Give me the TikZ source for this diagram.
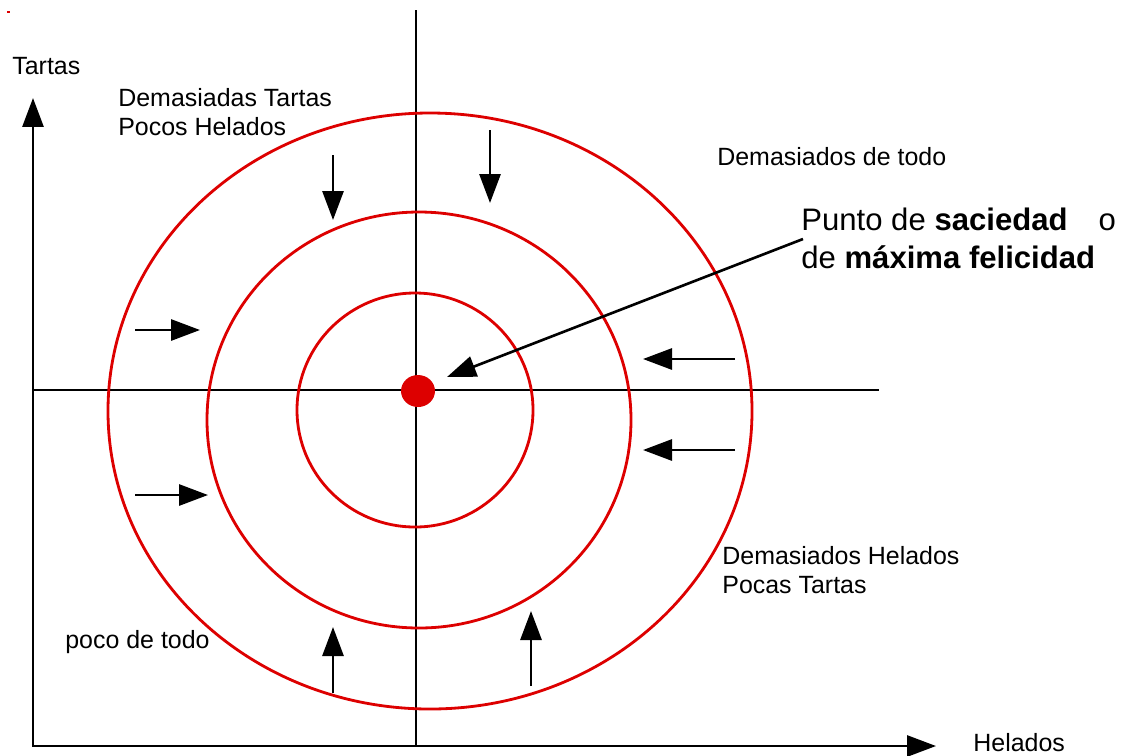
\documentclass[tikz,border=0pt]{standalone}
\usepackage{fontspec}
\setmainfont{Liberation Sans}
\usetikzlibrary{arrows.meta}
\definecolor{rojo}{RGB}{221,0,0}

\begin{document}
\begin{tikzpicture}[x=0.02cm,y=-0.02cm,
    linea/.style={line width=1.5pt},
    flecha/.style={line width=1.5pt,-{Triangle[length=16.5pt,width=12pt]}},
    curva/.style={rojo,line width=1.6pt},
    rotulo/.style={anchor=base west,inner sep=0pt,align=left,font=\fontsize{14.2}{16.4}\selectfont},
    grande/.style={rotulo,font=\fontsize{17.7}{21.5}\selectfont}]
    \useasboundingbox (0,0) rectangle (1121,755);
    \fill[rojo] (7,11) rectangle (10,13);
    % ejes
    \draw[flecha] (33,746) -- (33,98);
    \draw[flecha] (32,746) -- (936,746);
    \node[rotulo] (tartas) at (12,74) {Tartas};
    \node[rotulo] (helados) at (973,751) {Helados};
    % cruz por el punto de saciedad
    \draw[linea] (416,10) -- (416,746);
    \draw[linea] (33,390) -- (879,390);
    % curvas de indiferencia
    \draw[curva] (415,410) ellipse [x radius=118, y radius=117];
    \draw[curva] (419,420) ellipse [x radius=212, y radius=208];
    \draw[curva] (430,411) ellipse [x radius=322, y radius=298];
    \fill[rojo] (418,391) ellipse [x radius=17, y radius=16];
    % flechas hacia el centro
    \draw[flecha] (333,155) -- (333,220);
    \draw[flecha] (490,130) -- (490,203);
    \draw[flecha] (135,330) -- (200,330);
    \draw[flecha] (135,495) -- (208,495);
    \draw[flecha] (735,359) -- (643,359);
    \draw[flecha] (735,450) -- (643,450);
    \draw[flecha] (333,693) -- (333,627);
    \draw[flecha] (531,686) -- (531,611);
    % rotulos (base = ultima linea)
    \node[rotulo] (tartashel) at (118,135) {Demasiadas Tartas\\Pocos Helados};
    \node[rotulo] (todo) at (717,165) {Demasiados de todo};
    \node[rotulo] (heladostar) at (722,593) {Demasiados Helados\\Pocas Tartas};
    \node[rotulo] (poco) at (65,648) {poco de todo};
    \node[grande] (punto) at (801,268) {Punto de \textbf{saciedad}\quad o\\de \textbf{máxima felicidad}};
    \coordinate (inicio) at (803,239);
    \coordinate (sat) at (447,377);
    \draw[flecha] (inicio) -- (sat);
\end{tikzpicture}
\end{document}
